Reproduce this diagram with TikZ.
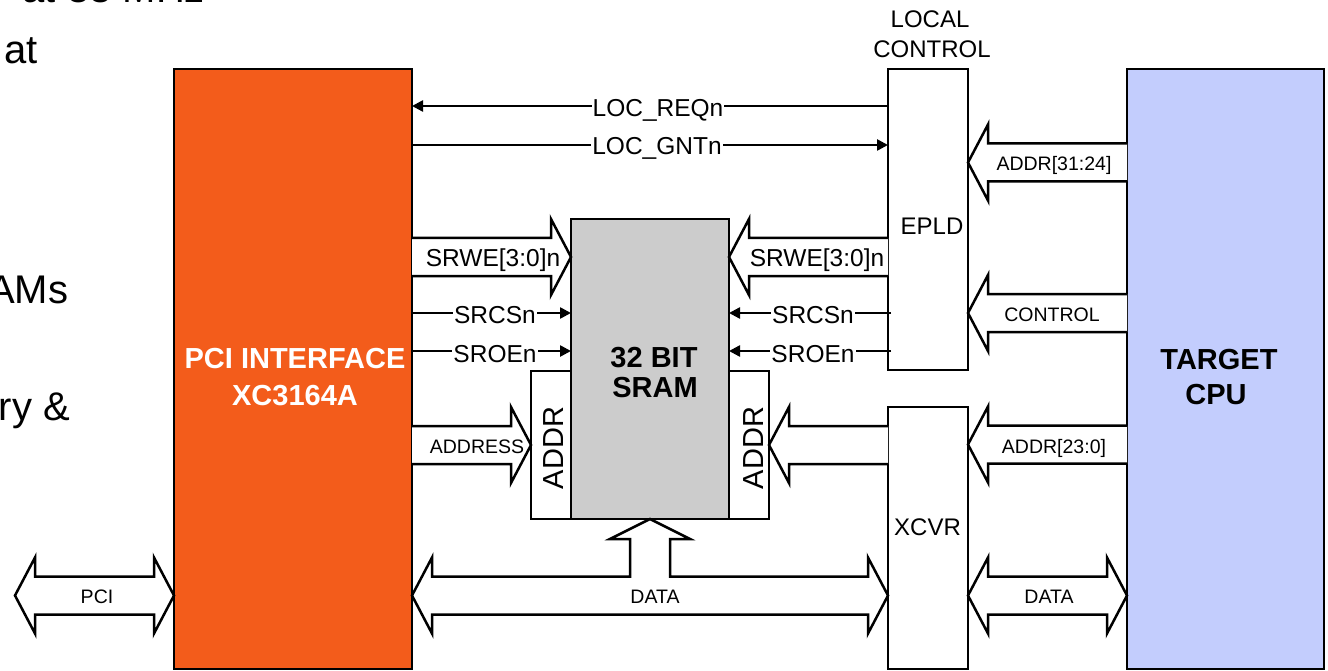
\documentclass[tikz,border=0pt]{standalone}
\usepackage{fontspec}
\setmainfont{Liberation Sans}
\usetikzlibrary{arrows.meta,calc}
\definecolor{pciorange}{RGB}{243,92,27}
\definecolor{cpublue}{RGB}{195,205,253}
\definecolor{sramgray}{RGB}{204,204,204}
\newcommand\busarrow[3]{%
  \draw[bus] let \p1=(#1), \p2=(#2), \p3=(0,#3), \n1={sign(\x2-\x1)} in
    (\x1,\y3+19pt) -- (\x2-\n1*20pt,\y3+19pt) -- (\x2-\n1*20pt,\y3+38pt) -- (\x2,\y3)
    -- (\x2-\n1*20pt,\y3-38pt) -- (\x2-\n1*20pt,\y3-19pt) -- (\x1,\y3-19pt);}
\newcommand\dbusarrow[3]{%
  \draw[bus] let \p1=(#1), \p2=(#2), \p3=(0,#3), \n1={sign(\x2-\x1)} in
    (\x1,\y3) -- (\x1+\n1*20pt,\y3+38pt) -- (\x1+\n1*20pt,\y3+19pt)
    -- (\x2-\n1*20pt,\y3+19pt) -- (\x2-\n1*20pt,\y3+38pt) -- (\x2,\y3)
    -- (\x2-\n1*20pt,\y3-38pt) -- (\x2-\n1*20pt,\y3-19pt)
    -- (\x1+\n1*20pt,\y3-19pt) -- (\x1+\n1*20pt,\y3-38pt) -- cycle;}
\begin{document}
\begin{tikzpicture}[x=1pt,y=-1pt,
  every node/.style={inner sep=0pt,outer sep=0pt},
  box/.style={draw=black,line width=2.5pt,inner sep=0pt},
  bus/.style={draw=black,line width=2.5pt,fill=white,line join=miter},
  sig/.style={draw=black,line width=2.5pt,-{Triangle[length=11pt,width=11pt]}},
  siglab/.style={font=\fontsize{24.5}{28}\selectfont,fill=white,inner sep=1pt,anchor=base},
  blocklab/.style={font=\fontsize{24}{28}\selectfont,anchor=base},
  buslab/.style={font=\fontsize{19.5}{23}\selectfont,anchor=base},
  boldlab/.style={font=\fontsize{29}{33}\selectfont\bfseries,anchor=base},
  addrlab/.style={font=\fontsize{29}{33}\selectfont,rotate=90},
  slidelab/.style={font=\fontsize{40}{46}\selectfont,anchor=base east}]
\useasboundingbox (0,0) rectangle (1328,671);
\fill[white] (0,0) rectangle (1328,671);

% slide text fragments
\node[slidelab] (s0) at (205,3) {at 33 MHz};
\node[slidelab] (s1) at (38,64) {at};
\node[slidelab] (s2) at (68,303) {AMs};
\node[slidelab] (s3) at (70,420) {ry \&};

% blocks
\node[box,fill=pciorange,minimum width=238pt,minimum height=600pt] (pci) at (293,369) {};
\node[box,fill=white,minimum width=80pt,minimum height=301pt] (epld) at (928,219.5) {};
\node[box,fill=white,minimum width=80pt,minimum height=262pt] (xcvr) at (928,538) {};
\node[box,fill=cpublue,minimum width=197pt,minimum height=600pt] (cpu) at (1225.5,369) {};
\node[box,fill=white,minimum width=40pt,minimum height=148pt] (addrL) at (551,445) {};
\node[box,fill=white,minimum width=40pt,minimum height=148pt] (addrR) at (749,445) {};
\node[box,fill=sramgray,minimum width=158pt,minimum height=300pt] (sram) at (650,369) {};
\coordinate (pcifree) at (15,595.5);

% block texts
\node[boldlab,text=white] (pcit1) at (295,368) {PCI INTERFACE};
\node[boldlab,text=white] (pcit2) at (295,405) {XC3164A};
\node[boldlab] (sramt1) at (654,367) {32 BIT};
\node[boldlab] (sramt2) at (655,397) {SRAM};
\node[boldlab] (cput1) at (1219,369) {TARGET};
\node[boldlab] (cput2) at (1216,404) {CPU};
\node[blocklab] (lc1) at (930,28) {LOCAL};
\node[blocklab] (lc2) at (932,58) {CONTROL};
\node[blocklab] (epldt) at (932,235) {EPLD};
\node[blocklab] (xcvrt) at (927.5,535) {XCVR};
\node[addrlab] (addrLt) at (554,448) {ADDR};
\node[addrlab] (addrRt) at (753.5,448) {ADDR};

% bus arrows
\busarrow{pci.east}{sram.west}{257}
\busarrow{epld.west}{sram.east}{257}
\busarrow{pci.east}{addrL.west}{445}
\busarrow{xcvr.west}{addrR.east}{445}
\busarrow{cpu.west}{epld.east}{162.5}
\busarrow{cpu.west}{epld.east}{313}
\busarrow{cpu.west}{xcvr.east}{444.5}
\dbusarrow{pcifree}{pci.west}{595.5}
\dbusarrow{xcvr.east}{cpu.west}{595.5}
\draw[bus] let \p1=(pci.east), \p2=(xcvr.west), \p3=(sram.south), \p4=(0,595.5) in
  (\x1,\y4) -- (\x1+20pt,\y4+38pt) -- (\x1+20pt,\y4+19pt) -- (\x3-20pt,\y4+19pt)
  -- (\x3-20pt,\y3-20pt) -- (\x3-40pt,\y3-20pt) -- (\x3,\y3) -- (\x3+40pt,\y3-20pt)
  -- (\x3+20pt,\y3-20pt) -- (\x3+20pt,\y4+19pt) -- (\x2-20pt,\y4+19pt)
  -- (\x2-20pt,\y4+38pt) -- (\x2,\y4) -- (\x2-20pt,\y4-38pt) -- (\x2-20pt,\y4-19pt)
  -- (\x1+20pt,\y4-19pt) -- (\x1+20pt,\y4-38pt) -- cycle;

% bus labels
\node[siglab,fill=none] (srweLt) at (493,266) {SRWE[3:0]n};
\node[siglab,fill=none] (srweRt) at (817,266) {SRWE[3:0]n};
\node[buslab] (addresst) at (477,453) {ADDRESS};
\node[buslab] (a3124t) at (1054,171) {ADDR[31:24]};
\node[buslab] (ctrlt) at (1052,321) {CONTROL};
\node[buslab] (a230t) at (1054,453) {ADDR[23:0]};
\node[buslab] (pcit) at (97,603) {PCI};
\node[buslab] (dataMt) at (655,603) {DATA};
\node[buslab] (dataRt) at (1049,603) {DATA};

% signal lines
\draw[sig] (epld.west |- 0,106) -- (pci.east |- 0,106);
\node[siglab] (reqt) at (658,117) {LOC\_REQn};
\draw[sig] (pci.east |- 0,145) -- (epld.west |- 0,145);
\node[siglab] (gntt) at (657,155) {LOC\_GNTn};
\draw[sig] (pci.east |- 0,313) -- (sram.west |- 0,313);
\node[siglab] (csLt) at (495,323) {SRCSn};
\draw[sig] (pci.east |- 0,351) -- (sram.west |- 0,351);
\node[siglab] (oeLt) at (495,362) {SROEn};
\draw[sig] ([xshift=3pt]epld.west |- 0,313) -- (sram.east |- 0,313);
\node[siglab] (csRt) at (813,323) {SRCSn};
\draw[sig] ([xshift=3pt]epld.west |- 0,351) -- (sram.east |- 0,351);
\node[siglab] (oeRt) at (813,362) {SROEn};
\end{tikzpicture}
\end{document}
